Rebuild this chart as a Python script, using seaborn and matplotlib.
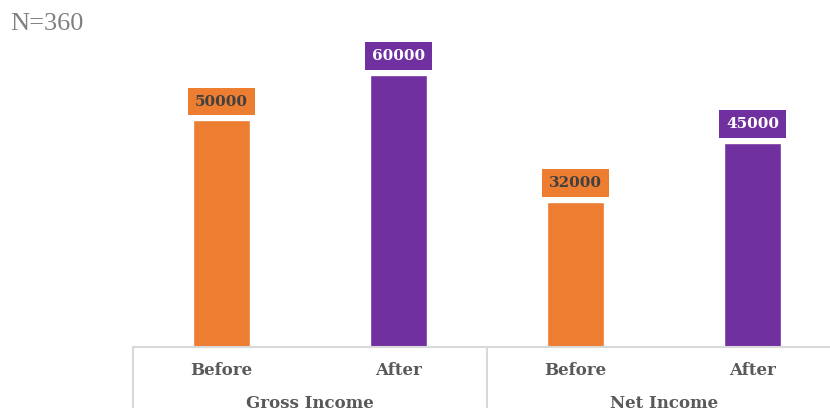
import matplotlib
matplotlib.use("Agg")
import matplotlib.pyplot as plt
import matplotlib.transforms as mtransforms
import seaborn as sns
import pandas as pd

# Income before and after, by income type
groups = ["Gross Income", "Gross Income", "Net Income", "Net Income"]
phases = ["Before", "After", "Before", "After"]
values = [50000, 60000, 32000, 45000]
sample_note = "N=360"

ORANGE = "#ED7D31"
PURPLE = "#7030A0"
GRID_GRAY = "#D9D9D9"
TEXT_GRAY = "#595959"

df = pd.DataFrame({
    "slot": [f"{g}|{p}" for g, p in zip(groups, phases)],
    "group": groups,
    "phase": phases,
    "value": values,
})

sns.set_theme(style="white")
plt.rcParams["font.family"] = ["DejaVu Serif"]

fig = plt.figure(figsize=(8.30, 4.08), dpi=100)
fig.patch.set_facecolor("white")
# the right end of the category axis runs past the figure edge
ax = fig.add_axes([133 / 830, 61 / 408, 708 / 830, 326.4 / 408])

sns.barplot(
    data=df, x="slot", y="value", hue="phase",
    palette={"Before": ORANGE, "After": PURPLE},
    dodge=False, width=0.32, legend=False, ax=ax,
    order=df["slot"].tolist(), saturation=1,
)

ax.set_xlim(-0.5, 3.5)
ax.set_ylim(0, 72000)
ax.set_xlabel("")
ax.set_ylabel("")
ax.set_yticks([])
ax.set_xticks(range(len(phases)))
ax.set_xticklabels(phases, fontsize=12, fontweight="bold", color=TEXT_GRAY)
ax.tick_params(axis="x", length=0, pad=11)
for side in ("left", "right", "top"):
    ax.spines[side].set_visible(False)
ax.spines["bottom"].set_color(GRID_GRAY)
ax.spines["bottom"].set_linewidth(1.5)
ax.set_facecolor("white")

# value labels in filled boxes above each bar
for i, (v, p) in enumerate(zip(values, phases)):
    face = ORANGE if p == "Before" else PURPLE
    txt = "#404040" if p == "Before" else "white"
    ax.annotate(
        f"{v}", xy=(i, v), xytext=(0, 13.5), textcoords="offset points",
        ha="center", va="center", fontsize=11.0, fontweight="bold", color=txt,
        bbox=dict(boxstyle="square,pad=0.45", facecolor=face, edgecolor="none"),
    )

# group separators and group labels below the category labels
trans = mtransforms.blended_transform_factory(ax.transData, ax.transAxes)
for xs in (-0.5, 1.5, 3.5):
    ax.plot([xs, xs], [0, -0.25], transform=trans, color=GRID_GRAY,
            linewidth=1.5, clip_on=False)
seen = []
for i, g in enumerate(groups):
    if g in seen:
        continue
    seen.append(g)
    idx = [j for j, gg in enumerate(groups) if gg == g]
    center = sum(idx) / len(idx)
    ax.annotate(g, xy=(center, 0), xycoords=trans, xytext=(0, -40.5),
                textcoords="offset points", ha="center", va="center",
                fontsize=12, fontweight="bold", color=TEXT_GRAY,
                annotation_clip=False)

fig.text(10 / 830, 1 - 24 / 408, sample_note, ha="left", va="center",
         fontsize=19, color="#808080", family=["Liberation Serif", "DejaVu Serif"])

fig.savefig("out.png", dpi=100, facecolor="white")
